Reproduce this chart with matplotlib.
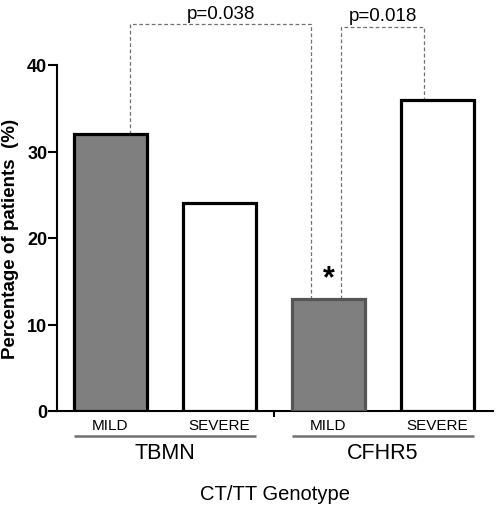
import matplotlib.pyplot as plt

plt.rcParams['font.family'] = ['Liberation Sans', 'DejaVu Sans']

groups = ['TBMN', 'CFHR5']
severity = ['MILD', 'SEVERE', 'MILD', 'SEVERE']
values = [32, 24, 13, 36]
fills = ['#7f7f7f', 'white', '#7f7f7f', 'white']
edges = ['black', 'black', '#555555', 'black']
pvals = ['p=0.038', 'p=0.018']

pos = [0, 1, 2, 3]
w = 0.67

fig = plt.figure(figsize=(4.98, 5.10), dpi=100)
ax = fig.add_axes([57/498, 98/510, 436/498, 346/510])

for x, v, fc, ec in zip(pos, values, fills, edges):
    ax.bar(x, v, width=w, color=fc, edgecolor=ec, linewidth=2.3, zorder=3)

ax.set_xlim(-0.49, 3.51)
ax.set_ylim(0, 40)
ax.set_yticks([0, 10, 20, 30, 40])
ax.tick_params(axis='y', length=6.5, width=1.5, labelsize=13, pad=0.5)
for t in ax.get_yticklabels():
    t.set_fontweight('bold')
ax.set_xticks([1.5])
ax.set_xticklabels([''])
ax.tick_params(axis='x', length=4, width=1.5, direction='out')
for s in ['top', 'right']:
    ax.spines[s].set_visible(False)
ax.spines['left'].set_linewidth(1.5)
ax.spines['bottom'].set_linewidth(1.5)

ax.set_ylabel('Percentage of patients  (%)', fontsize=13.5, fontweight='bold', labelpad=6)
fig.text(275/498, 15/510, 'CT/TT Genotype', ha='center', va='center', fontsize=14.5)

# category labels and group underlines
for x, lab in zip(pos, severity):
    ax.text(x, -1.62, lab, ha='center', va='center', fontsize=11, clip_on=False)
for i, g in enumerate(groups):
    x0 = pos[2*i] - w/2
    x1 = pos[2*i+1] + w/2
    ax.plot([x0, x1], [-2.89, -2.89], color='#707070', lw=1.8, clip_on=False, solid_capstyle='butt')
    ax.text((pos[2*i] + pos[2*i+1]) / 2, -4.74, g, ha='center', va='center', fontsize=15.5, clip_on=False)

# significance brackets
dash = dict(color='#707070', lw=0.9, ls=(0, (3, 2)), clip_on=False, zorder=2)
ax.plot([0.18, 0.18, 1.84, 1.84], [values[0], 44.7, 44.7, values[2]], **dash)
ax.text((0.18 + 1.84) / 2, 45.0, pvals[0], ha='center', va='bottom', fontsize=13.5)
ax.plot([2.12, 2.12, 2.88, 2.88], [values[2], 44.4, 44.4, values[3]], **dash)
ax.text((2.12 + 2.88) / 2, 44.7, pvals[1], ha='center', va='bottom', fontsize=13.5)

ax.text(2.0, 15.3, '*', ha='center', va='center', fontsize=22, fontweight='bold')

fig.savefig('out.png', dpi=100)
